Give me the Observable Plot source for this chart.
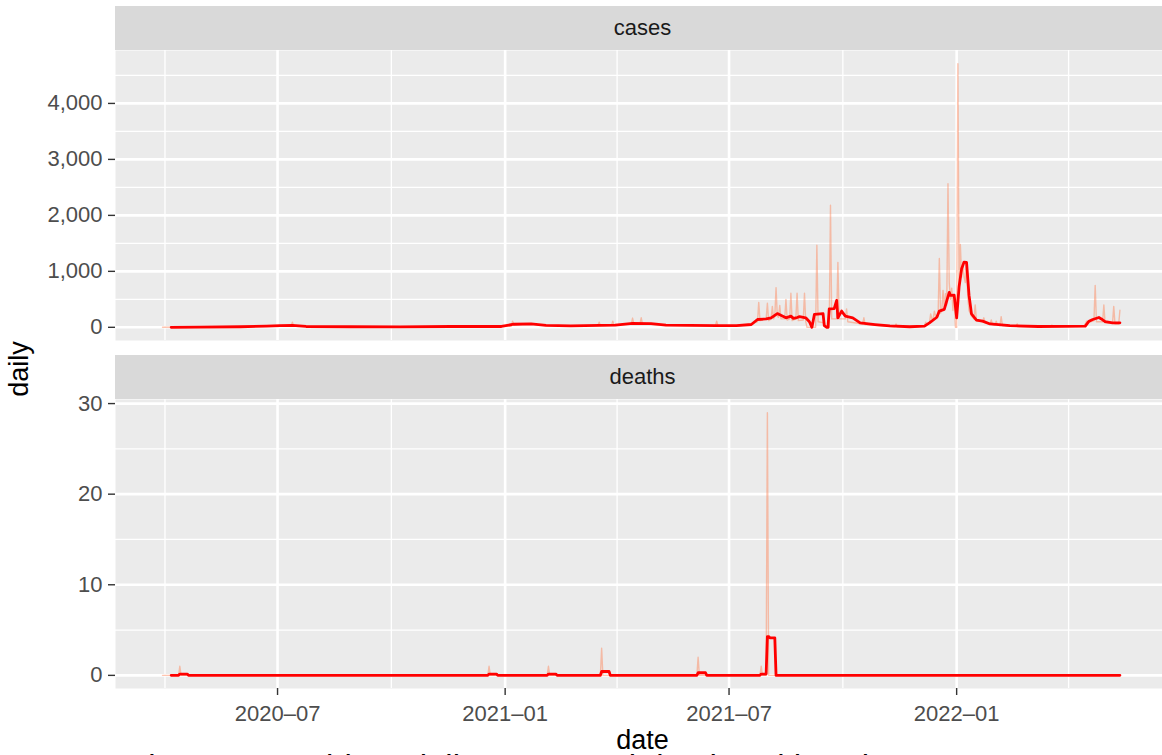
<!DOCTYPE html>
<html>
<head>
<meta charset="utf-8">
<script src="https://cdn.jsdelivr.net/npm/d3@7"></script>
<script src="https://cdn.jsdelivr.net/npm/@observablehq/plot@0.6"></script>
<style>
html,body{margin:0;padding:0;background:#fff;overflow:hidden;width:1162px;height:755px;}
body{position:relative;font-family:"Liberation Sans",Arial,Helvetica,sans-serif;}
.strip{position:absolute;left:115px;width:1055px;height:44px;background:#D9D9D9;color:#1A1A1A;font-size:22px;line-height:44px;text-align:center;}
.panel{position:absolute;left:0;}
.panel svg{display:block;}
#overlay{position:absolute;left:0;top:0;pointer-events:none;}
</style>
</head>
<body>
<div class="strip" style="top:6px">cases</div>
<div id="p1" class="panel" style="top:50px"></div>
<div class="strip" style="top:355px">deaths</div>
<div id="p2" class="panel" style="top:399px"></div>
<svg id="overlay" width="1162" height="755" font-family="Liberation Sans, Arial, sans-serif">
  <text x="128" y="778" text-anchor="start" font-size="33" fill="#000">Figure 1: Covid-19 daily cases and deaths with 7-day average</text>
  <text x="642.5" y="749" text-anchor="middle" font-size="27" fill="#000">date</text>
  <text transform="translate(28,369) rotate(-90)" text-anchor="middle" font-size="27" fill="#000">daily</text>
</svg>
<script>
// ---- data ----
const facets = ["cases", "deaths"];
const xTicks = ["2020-07-01", "2021-01-01", "2021-07-01", "2022-01-01"];
const xMinorTicks = ["2020-04-01", "2020-10-01", "2021-04-01T12:00Z", "2021-10-01", "2022-04-01T12:00Z"];
const xDomainEnds = ["2020-02-21", "2022-06-16T10:00Z"];
const casesTicks = [0, 1000, 2000, 3000, 4000];
const casesMinorTicks = [500, 1500, 2500, 3500, 4500];
const casesDomain = [-235.5, 4945.5];
const deathsTicks = [0, 10, 20, 30];
const deathsMinorTicks = [5, 15, 25];
const deathsDomain = [-1.45, 30.45];

// daily reported cases
const casesDaily = [
  ["2020-03-30",0],["2020-04-20",5],["2020-06-01",10],["2020-07-12",25],["2020-07-13",90],["2020-07-14",20],
  ["2020-08-30",10],["2020-11-18",15],["2021-01-06",20],["2021-01-07",110],["2021-01-08",40],["2021-01-22",60],
  ["2021-02-05",30],["2021-03-17",30],["2021-03-18",90],["2021-03-19",30],["2021-03-28",35],["2021-03-29",110],
  ["2021-03-30",40],["2021-04-13",60],["2021-04-14",165],["2021-04-15",60],["2021-04-20",60],["2021-04-21",170],
  ["2021-04-22",60],["2021-05-15",35],["2021-06-20",30],["2021-06-21",110],["2021-06-22",30],["2021-07-10",30],
  ["2021-07-20",60],["2021-07-24",100],["2021-07-25",445],["2021-07-26",120],["2021-07-31",150],["2021-08-01",430],
  ["2021-08-02",120],["2021-08-04",150],["2021-08-05",375],["2021-08-06",150],["2021-08-07",200],["2021-08-08",710],
  ["2021-08-09",200],["2021-08-10",180],["2021-08-11",390],["2021-08-12",150],["2021-08-15",150],["2021-08-16",500],
  ["2021-08-17",130],["2021-08-19",150],["2021-08-20",610],["2021-08-21",120],["2021-08-24",150],["2021-08-25",610],
  ["2021-08-26",120],["2021-08-30",130],["2021-08-31",610],["2021-09-01",100],["2021-09-02",0],["2021-09-09",0],
  ["2021-09-10",1465],["2021-09-11",100],["2021-09-16",80],["2021-09-17",0],["2021-09-20",0],["2021-09-21",2180],
  ["2021-09-22",150],["2021-09-26",150],["2021-09-27",1160],["2021-09-28",150],["2021-10-03",150],["2021-10-04",330],
  ["2021-10-05",100],["2021-10-17",60],["2021-10-18",170],["2021-10-19",50],["2021-11-12",10],["2021-11-13",60],
  ["2021-11-14",10],["2021-12-06",30],["2021-12-07",90],["2021-12-08",60],["2021-12-10",80],["2021-12-11",240],
  ["2021-12-12",150],["2021-12-13",150],["2021-12-14",290],["2021-12-15",200],["2021-12-17",200],["2021-12-18",1230],
  ["2021-12-19",250],["2021-12-20",300],["2021-12-21",660],["2021-12-22",350],["2021-12-23",600],["2021-12-24",400],
  ["2021-12-25",2565],["2021-12-26",800],["2021-12-27",500],["2021-12-28",700],["2021-12-29",300],["2021-12-30",580],
  ["2021-12-31",0],["2022-01-01",0],["2022-01-02",4710],["2022-01-03",620],["2022-01-04",1480],["2022-01-05",900],
  ["2022-01-06",1170],["2022-01-07",900],["2022-01-08",800],["2022-01-09",1170],["2022-01-10",550],["2022-01-11",300],
  ["2022-01-13",200],["2022-01-15",150],["2022-01-16",400],["2022-01-17",120],["2022-01-22",100],["2022-01-23",170],
  ["2022-01-24",80],["2022-01-28",60],["2022-01-29",130],["2022-01-30",50],["2022-02-01",40],["2022-02-02",110],
  ["2022-02-03",40],["2022-02-05",30],["2022-02-06",190],["2022-02-07",30],["2022-02-18",20],["2022-02-19",60],
  ["2022-02-20",15],["2022-03-18",10],["2022-03-19",40],["2022-03-20",10],["2022-04-14",20],["2022-04-15",60],
  ["2022-04-16",110],["2022-04-17",80],["2022-04-22",120],["2022-04-23",750],["2022-04-24",100],["2022-04-29",100],
  ["2022-04-30",400],["2022-05-01",80],["2022-05-07",70],["2022-05-08",375],["2022-05-09",60],["2022-05-12",60],
  ["2022-05-13",305]
];
// 7-day average of cases
const casesAvg = [
  ["2020-04-06",0],["2020-04-30",5],["2020-06-01",10],["2020-06-22",20],["2020-07-03",30],["2020-07-13",35],
  ["2020-07-24",15],["2020-08-29",10],["2020-10-08",8],["2020-11-18",15],["2020-12-29",15],["2021-01-08",55],
  ["2021-01-22",60],["2021-02-03",35],["2021-02-23",25],["2021-03-18",35],["2021-03-31",40],["2021-04-14",70],
  ["2021-04-29",65],["2021-05-11",40],["2021-05-31",35],["2021-06-21",30],["2021-07-07",30],["2021-07-19",50],
  ["2021-07-24",140],["2021-07-31",150],["2021-08-04",170],["2021-08-09",245],["2021-08-16",170],["2021-08-20",200],
  ["2021-08-22",160],["2021-08-25",175],["2021-08-27",190],["2021-09-01",170],["2021-09-04",100],["2021-09-06",0],
  ["2021-09-08",230],["2021-09-15",245],["2021-09-16",30],["2021-09-18",0],["2021-09-19",0],["2021-09-20",330],
  ["2021-09-24",335],["2021-09-26",480],["2021-09-27",170],["2021-09-30",290],["2021-10-03",200],["2021-10-09",170],
  ["2021-10-15",80],["2021-10-27",50],["2021-11-08",25],["2021-11-24",10],["2021-12-06",20],["2021-12-10",80],
  ["2021-12-16",180],["2021-12-18",290],["2021-12-22",320],["2021-12-26",625],["2021-12-27",570],["2021-12-30",575],
  ["2022-01-01",170],["2022-01-03",730],["2022-01-05",1045],["2022-01-07",1165],["2022-01-09",1160],["2022-01-11",575],
  ["2022-01-13",240],["2022-01-17",130],["2022-01-22",110],["2022-01-28",60],["2022-02-13",30],["2022-03-08",15],
  ["2022-04-15",20],["2022-04-18",110],["2022-04-21",140],["2022-04-26",175],["2022-04-28",150],["2022-05-01",100],
  ["2022-05-07",80],["2022-05-13",80]
];
// daily reported deaths
const deathsDaily = [
  ["2020-03-30",0],["2020-04-12",0],["2020-04-13",1],["2020-04-14",0],["2020-12-18",0],["2020-12-19",1],
  ["2020-12-20",0],["2021-02-04",0],["2021-02-05",1],["2021-02-06",0],["2021-03-19",0],["2021-03-20",3],
  ["2021-03-21",0],["2021-06-05",0],["2021-06-06",2],["2021-06-07",0],["2021-07-26",0],["2021-07-27",1],
  ["2021-07-28",0],["2021-07-31",0],["2021-08-01",29],["2021-08-02",0],["2022-05-13",0]
];
// 7-day average of deaths
const deathsAvg = [
  ["2020-04-06",0],["2020-04-12",0],["2020-04-13",0.143],["2020-04-19",0.143],["2020-04-20",0],
  ["2020-12-18",0],["2020-12-19",0.143],["2020-12-25",0.143],["2020-12-26",0],
  ["2021-02-04",0],["2021-02-05",0.143],["2021-02-11",0.143],["2021-02-12",0],
  ["2021-03-19",0],["2021-03-20",0.429],["2021-03-26",0.429],["2021-03-27",0],
  ["2021-06-05",0],["2021-06-06",0.286],["2021-06-12",0.286],["2021-06-13",0],
  ["2021-07-26",0],["2021-07-27",0.143],["2021-07-31",0.143],["2021-08-01",4.286],["2021-08-02",4.286],
  ["2021-08-03",4.143],["2021-08-07",4.143],["2021-08-08",0],["2022-05-13",0]
];

// ---- build ----
const toRows = arr => arr.map(([d, v]) => ({date: new Date(d), value: v}));
const xMajor = xTicks.map(d => new Date(d));
const xMinor = xMinorTicks.map(d => new Date(d));
const xDomain = xDomainEnds.map(d => new Date(d));
const font = "Liberation Sans, Arial, Helvetica, sans-serif";

function panel({daily, avg, yDomain, yMajor, yMinor, yFormat, height, marginBottom, showX}) {
  const marks = [
    Plot.frame({fill: "#EBEBEB", stroke: "none"}),
    Plot.gridX(xMinor, {stroke: "white", strokeOpacity: 1, strokeWidth: 1.3}),
    Plot.gridY(yMinor, {stroke: "white", strokeOpacity: 1, strokeWidth: 1.3}),
    Plot.gridX(xMajor, {stroke: "white", strokeOpacity: 1, strokeWidth: 2.6}),
    Plot.gridY(yMajor, {stroke: "white", strokeOpacity: 1, strokeWidth: 2.6}),
    Plot.line(toRows(daily), {x: "date", y: "value", stroke: "#FF7F50", strokeOpacity: 0.45, strokeWidth: 1.4}),
    Plot.line(toRows(avg), {x: "date", y: "value", stroke: "#FF0000", strokeWidth: 2.8}),
    Plot.axisY(yMajor, {tickSize: 7, tickPadding: 6, tickFormat: yFormat, fill: "#4D4D4D", stroke: "#333333", strokeWidth: 1.4, label: null})
  ];
  if (showX) {
    marks.push(Plot.axisX(xMajor, {tickSize: 7, tickPadding: 9.4, tickFormat: d3.utcFormat("%Y\u2013%m"), fill: "#4D4D4D", stroke: "#333333", strokeWidth: 1.4, label: null}));
  }
  return Plot.plot({
    width: 1162, height, marginLeft: 115, marginRight: 0, marginTop: 0, marginBottom,
    style: {fontFamily: font, fontSize: "22px", overflow: "visible", background: "transparent", maxWidth: "none"},
    x: {type: "utc", domain: xDomain, axis: null},
    y: {domain: yDomain, axis: null},
    marks
  });
}

document.getElementById("p1").appendChild(panel({
  daily: casesDaily, avg: casesAvg, yDomain: casesDomain, yMajor: casesTicks, yMinor: casesMinorTicks,
  yFormat: d3.format(","), height: 290, marginBottom: 0, showX: false
}));
document.getElementById("p2").appendChild(panel({
  daily: deathsDaily, avg: deathsAvg, yDomain: deathsDomain, yMajor: deathsTicks, yMinor: deathsMinorTicks,
  yFormat: d3.format("d"), height: 349, marginBottom: 60, showX: true
}));
</script>
</body>
</html>
